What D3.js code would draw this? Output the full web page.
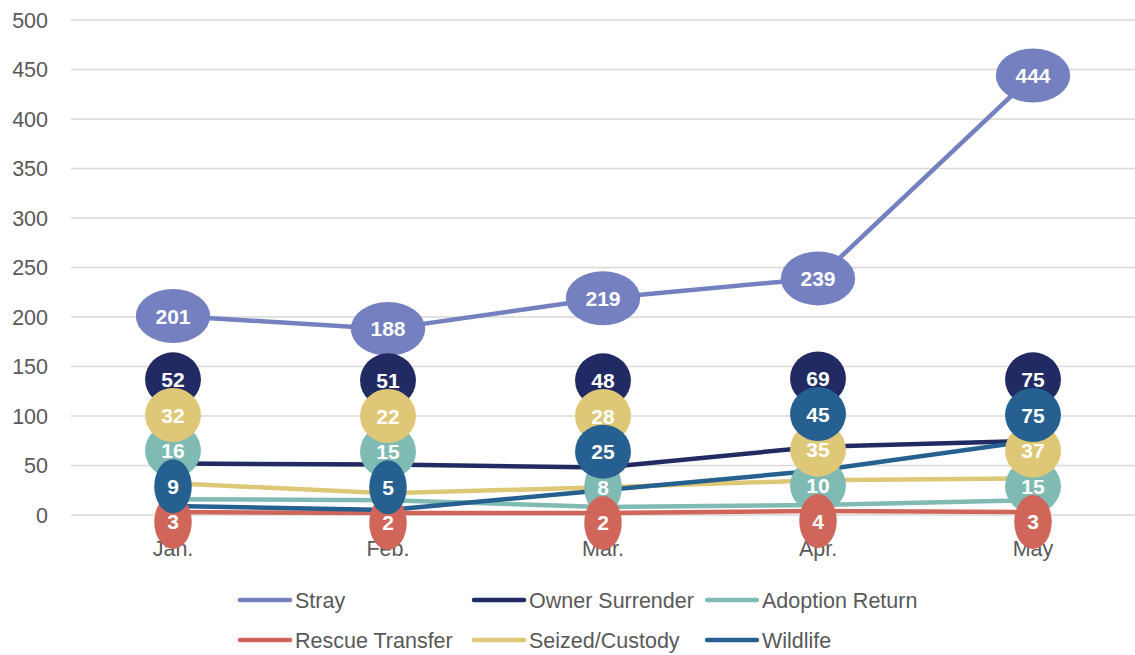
<!DOCTYPE html>
<html>
<head>
<meta charset="utf-8">
<script src="https://cdn.jsdelivr.net/npm/d3@7"></script>
<style>
  body { margin: 0; background: #fff; }
  svg { display: block; }
</style>
</head>
<body>
<svg id="chart" width="1135" height="655"></svg>
<script>
var months = ["Jan.", "Feb.", "Mar.", "Apr.", "May"];
var seriesNames = ["Stray", "Owner Surrender", "Adoption Return", "Rescue Transfer", "Seized/Custody", "Wildlife"];
var stray = [201, 188, 219, 239, 444];
var ownerSurrender = [52, 51, 48, 69, 75];
var adoptionReturn = [16, 15, 8, 10, 15];
var rescueTransfer = [3, 2, 2, 4, 3];
var seizedCustody = [32, 22, 28, 35, 37];
var wildlife = [9, 5, 25, 45, 75];
var yTicks = [0, 50, 100, 150, 200, 250, 300, 350, 400, 450, 500];

var colors = ["#7480c0", "#212a63", "#7fbab3", "#d0665a", "#dec777", "#266090"];
var allValues = [stray, ownerSurrender, adoptionReturn, rescueTransfer, seizedCustody, wildlife];

var series = seriesNames.map(function (name, i) {
    return { name: name, values: allValues[i], color: colors[i] };
});

var svg = d3.select("#chart");
var W = 1135;
var FONT = "Liberation Sans, Arial, sans-serif";

var x = d3.scalePoint().domain(months).range([65.5, 1140.5]).padding(0.5);
var y = d3.scaleLinear().domain([0, 500]).range([515, 20]);

// grid + y labels
var grid = svg.append("g");
yTicks.forEach(function (t) {
    grid.append("line")
        .attr("x1", 71).attr("x2", W)
        .attr("y1", y(t)).attr("y2", y(t))
        .attr("stroke", "#d9d9d9")
        .attr("stroke-width", 1.5);
    grid.append("text")
        .attr("x", 48).attr("y", y(t))
        .attr("dy", "0.35em")
        .attr("text-anchor", "end")
        .attr("font-family", FONT)
        .attr("font-size", 21.5)
        .attr("fill", "#595959")
        .text(t);
});

// x labels
months.forEach(function (m) {
    svg.append("text")
        .attr("x", x(m)).attr("y", 548)
        .attr("dy", "0.35em")
        .attr("text-anchor", "middle")
        .attr("font-family", FONT)
        .attr("font-size", 21.5)
        .attr("fill", "#595959")
        .text(m);
});

var line = d3.line()
    .x(function (d, i) { return x(months[i]); })
    .y(function (d) { return y(d); });

svg.append("g").selectAll("path")
    .data(series)
    .join("path")
    .attr("d", function (s) { return line(s.values); })
    .attr("fill", "none")
    .attr("stroke", function (s) { return s.color; })
    .attr("stroke-width", 4.5)
    .attr("stroke-linejoin", "round")
    .attr("stroke-linecap", "round");

// label positions: stack the labels of each month upward so they don't sit on top of each other
var labelPos = series.map(function () { return []; });
months.forEach(function (m, i) {
    var order = d3.range(series.length).sort(function (a, b) {
        return (series[a].values[i] - series[b].values[i]) || (b - a);
    });
    var prev = null;
    order.forEach(function (si, k) {
        var v = series[si].values[i];
        var p = k == 0 ? v - 10 : Math.max(v, prev + 36);
        labelPos[si][i] = p;
        prev = p;
    });
});

var labels = svg.append("g");
series.forEach(function (s, si) {
    s.values.forEach(function (v, i) {
        var g = labels.append("g")
            .attr("transform", "translate(" + x(months[i]) + "," + y(labelPos[si][i]) + ")");
        var ell = g.append("ellipse").attr("fill", s.color).attr("rx", 20).attr("ry", 27);
        var t = g.append("text")
            .attr("text-anchor", "middle")
            .attr("dy", "0.36em")
            .attr("font-family", FONT)
            .attr("font-weight", "bold")
            .attr("font-size", 21)
            .attr("fill", "#fff")
            .text(v);
        var tw = t.node().getComputedTextLength();
        ell.attr("rx", 0.79 * tw + 9.5);
    });
});

// legend
var legendCols = [238, 472, 705];
var legendRows = [600, 640];
var legend = svg.append("g");
series.forEach(function (s, i) {
    var lx = legendCols[i % 3];
    var ly = legendRows[Math.floor(i / 3)];
    legend.append("line")
        .attr("x1", lx + 2).attr("x2", lx + 52)
        .attr("y1", ly).attr("y2", ly)
        .attr("stroke", s.color)
        .attr("stroke-width", 4.5)
        .attr("stroke-linecap", "round");
    legend.append("text")
        .attr("x", lx + 57).attr("y", ly)
        .attr("dy", "0.35em")
        .attr("font-family", FONT)
        .attr("font-size", 21.5)
        .attr("fill", "#595959")
        .text(s.name);
});
</script>
</body>
</html>
